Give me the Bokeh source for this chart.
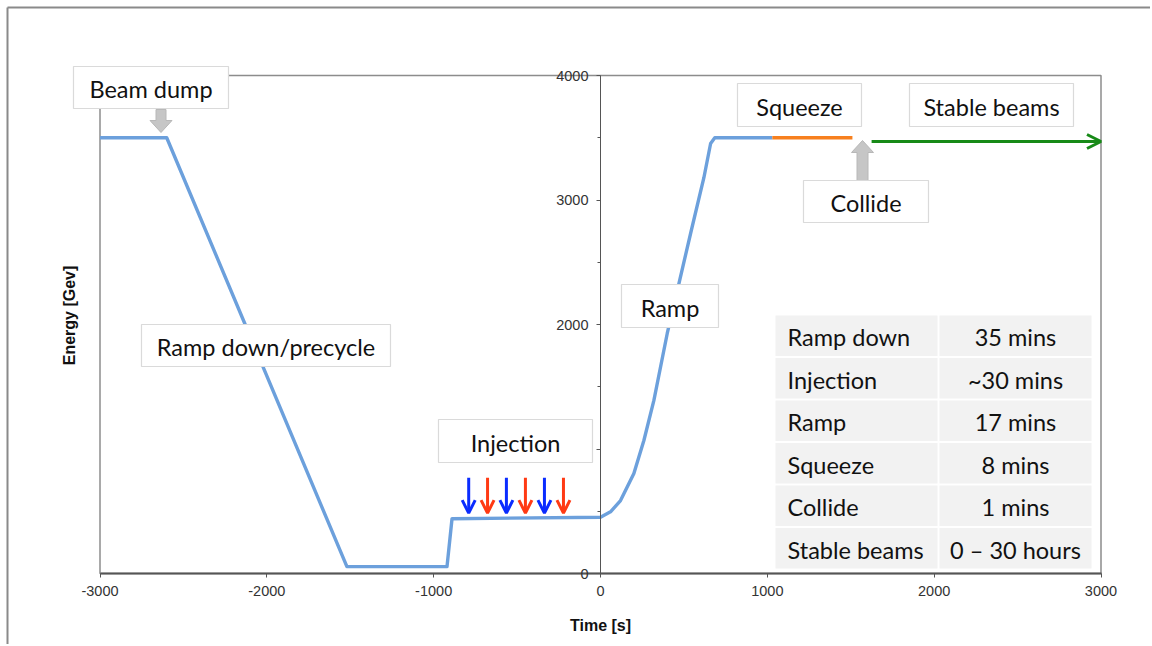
import math
from bokeh.plotting import figure
from bokeh.models import Range1d, FixedTicker, Arrow, OpenHead, ColumnDataSource, LinearAxis
from bokeh.core.properties import value
from bokeh.embed import file_html
from bokeh.resources import INLINE

# ---------------- data ----------------
time_s = [-3000, -2600, -1520, -920, -890, 0, 60, 120, 200, 260, 320, 400, 470, 540, 620, 660, 685, 1030]
energy_gev = [3500, 3500, 55, 55, 440, 452, 495, 586, 803, 1068, 1390, 1928, 2329, 2731, 3181, 3454, 3500, 3500]
squeeze_t = [1030, 1510]
squeeze_e = [3500, 3500]
stable_t = [1625, 3000]
stable_e = [3470, 3470]
inj_times = [-790, -677, -564, -450, -336, -222]
inj_colors = ["blue", "red", "blue", "red", "blue", "red"]
inj_top_e = 770
inj_tip_e = 485
x_ticks = [-3000, -2000, -1000, 0, 1000, 2000, 3000]
y_ticks = [0, 1000, 2000, 3000, 4000]
y_minor = [500, 1500, 2500, 3500]
phase_names = ["Ramp down", "Injection", "Ramp", "Squeeze", "Collide", "Stable beams"]
phase_durations = ["35 mins", "~30 mins", "17 mins", "8 mins", "1 mins", "0 \u2013 30 hours"]

# ---------------- geometry (page pixels) ----------------
OFF = 0
W, H = 1150, 644
PX0, SX = 600.0, 1001.0 / 6000.0
PY0, SY = 573.0, 498.0 / 4000.0


def tx(px):
    return (px - PX0) / SX


def ey(py):
    return (PY0 - py) / SY


FONT = "Lato"
TXT_SIZE = "23.5px"

p = figure(width=W, height=H,
           x_range=Range1d(tx(OFF), tx(OFF + W)),
           y_range=Range1d(ey(OFF + H), ey(OFF)),
           output_backend="svg", toolbar_location=None, min_border=0,
           x_axis_location=None, y_axis_location=None,
           outline_line_color=None, background_fill_color="white",
           border_fill_color="white")
for g in p.grid:
    g.visible = False

# outer slide border (top, left)
p.line([tx(7), tx(OFF + W)], [ey(7), ey(7)], line_color="#8a8a8a", line_width=2)
p.line([tx(7), tx(7)], [ey(7), ey(OFF + H)], line_color="#8a8a8a", line_width=2)

# chart frame
p.quad(left=[x_ticks[0]], right=[x_ticks[-1]], bottom=[y_ticks[0]], top=[y_ticks[-1]],
       fill_color=None, line_color="#8c8c8c", line_width=1.5)

# axes
xaxis = LinearAxis(fixed_location=0, bounds=(x_ticks[0], x_ticks[-1]),
                   ticker=FixedTicker(ticks=x_ticks, minor_ticks=[]))
xaxis.major_label_overrides = {t: str(t) for t in x_ticks}
xaxis.axis_line_color = "#555555"
xaxis.axis_line_width = 2
xaxis.major_tick_out = 4
xaxis.major_tick_in = 0
xaxis.major_tick_line_color = "#555555"
xaxis.minor_tick_line_color = None
xaxis.major_label_standoff = 8
xaxis.major_label_text_font = "Liberation Sans"
xaxis.major_label_text_font_size = "14.5px"
xaxis.major_label_text_color = "#333333"
p.add_layout(xaxis, "below")

yaxis = LinearAxis(fixed_location=0, bounds=(y_ticks[0], y_ticks[-1]),
                   ticker=FixedTicker(ticks=y_ticks, minor_ticks=y_minor))
yaxis.axis_line_color = "#555555"
yaxis.axis_line_width = 1
yaxis.major_tick_out = 4
yaxis.major_tick_in = 0
yaxis.minor_tick_out = 3
yaxis.minor_tick_in = 0
yaxis.major_tick_line_color = "#555555"
yaxis.minor_tick_line_color = "#555555"
yaxis.major_label_standoff = 8
yaxis.major_label_text_font = "Liberation Sans"
yaxis.major_label_text_font_size = "14.5px"
yaxis.major_label_text_color = "#333333"
p.add_layout(yaxis, "left")

# axis titles
p.text(x=[0], y=[ey(625)], text=["Time [s]"], text_font=value("Liberation Sans"),
       text_font_style="bold", text_font_size="16px", text_align="center",
       text_baseline="middle", text_color="#111111")
p.text(x=[tx(69)], y=[ey(315)], text=["Energy [Gev]"], text_font=value("Liberation Sans"),
       text_font_style="bold", text_font_size="16px", text_align="center",
       text_baseline="middle", text_color="#111111", angle=math.pi / 2)

# energy curve
p.line(time_s, energy_gev, line_color="#6ca0dc", line_width=3.4, line_join="round")
p.line(squeeze_t, squeeze_e, line_color="#f7801e", line_width=3.4)

# stable beams arrow
p.add_layout(Arrow(end=OpenHead(size=14, line_width=3, line_color="#178a17"),
                   x_start=stable_t[0], y_start=stable_e[0], x_end=stable_t[1], y_end=stable_e[1],
                   line_color="#178a17", line_width=3))

# injection arrows
cmap = {"blue": "#0a2cff", "red": "#ff3a14"}
for t, c in zip(inj_times, inj_colors):
    col = cmap[c]
    p.add_layout(Arrow(end=OpenHead(size=13, line_width=3, line_color=col),
                       x_start=t, y_start=inj_top_e, x_end=t, y_end=inj_tip_e,
                       line_color=col, line_width=3))

# gray block arrows (beam dump: down, collide: up)
def block_arrow(cx, y_tail, y_tip, shaft_hw, head_hw, head_len):
    d = 1 if y_tip > y_tail else -1
    yb = y_tip - d * head_len
    xs = [cx - shaft_hw, cx + shaft_hw, cx + shaft_hw, cx + head_hw, cx, cx - head_hw, cx - shaft_hw]
    ys = [y_tail, y_tail, yb, yb, y_tip, yb, yb]
    return [tx(v) for v in xs], [ey(v) for v in ys]

bx, by = block_arrow(160.5, 109, 132, 5, 11, 12)
p.patch(bx, by, fill_color="#c6c6c6", line_color="#b8b8b8", line_width=1, level="overlay")
cx_, cy_ = block_arrow(862, 180, 140, 5.5, 11, 12)
p.patch(cx_, cy_, fill_color="#c6c6c6", line_color="#b8b8b8", line_width=1, level="overlay")

# text boxes: (text, cx, cy, w, h) in page pixels
boxes = [
    ("Beam dump", 150.5, 87, 155, 42),
    ("Ramp down/precycle", 265.5, 345, 249, 42),
    ("Injection", 515, 440.5, 154, 43),
    ("Ramp", 669.5, 305.5, 97, 43),
    ("Squeeze", 799, 104.5, 124, 43),
    ("Stable beams", 991, 104.5, 164, 43),
    ("Collide", 865.5, 201, 125, 42),
]
src_boxes = ColumnDataSource(dict(
    x=[tx(b[1]) for b in boxes], y=[ey(b[2]) for b in boxes],
    w=[b[3] for b in boxes], h=[b[4] for b in boxes],
    ty=[ey(b[2] + 1.5) for b in boxes], text=[b[0] for b in boxes]))
p.rect(x="x", y="y", width="w", height="h", width_units="screen", height_units="screen",
       source=src_boxes, fill_color="white", line_color="#dadada", line_width=1.2, level="overlay")
p.text(x="x", y="ty", text="text", source=src_boxes, text_font=value(FONT),
       text_font_size=TXT_SIZE, text_align="center", text_baseline="middle",
       text_color="#111111", level="overlay")

# duration table
ROW_TOP, PITCH, ROW_H = 315.0, 42.5, 40.5
C1L, C1R, C2L, C2R = 775, 937, 939, 1091
n = len(phase_names)
rows_y = [ey(ROW_TOP + ROW_H / 2 + i * PITCH) for i in range(n)]
text_y = [ey(ROW_TOP + ROW_H / 2 + 1.5 + i * PITCH) for i in range(n)]
p.rect(x=[tx((C1L + C1R) / 2)] * n, y=rows_y, width=C1R - C1L, height=ROW_H,
       width_units="screen", height_units="screen", fill_color="#f2f2f2", line_color=None, level="overlay")
p.rect(x=[tx((C2L + C2R) / 2)] * n, y=rows_y, width=C2R - C2L, height=ROW_H,
       width_units="screen", height_units="screen", fill_color="#f2f2f2", line_color=None, level="overlay")
p.text(x=[tx(787)] * n, y=text_y, text=phase_names, text_font=value(FONT),
       text_font_size=TXT_SIZE, text_align="left", text_baseline="middle",
       text_color="#111111", level="overlay")
p.text(x=[tx((C2L + C2R) / 2)] * n, y=text_y, text=phase_durations, text_font=value(FONT),
       text_font_size=TXT_SIZE, text_align="center", text_baseline="middle",
       text_color="#111111", level="overlay")

open("out.html", "w").write(file_html(p, INLINE))
